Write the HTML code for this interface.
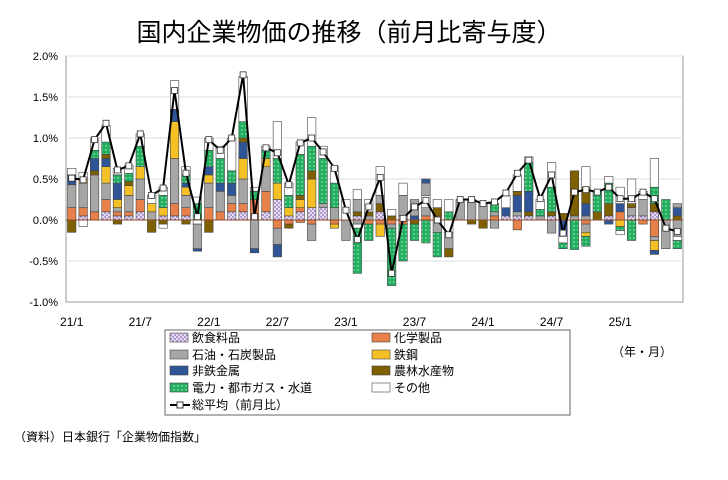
<!DOCTYPE html>
<html><head><meta charset="utf-8">
<style>
body{margin:0;background:#fff;width:728px;height:475px;overflow:hidden}
svg text{font-family:"Liberation Sans","Noto Sans CJK JP",sans-serif;fill:#000}
</style></head><body>
<svg id="s" width="728" height="475" xmlns="http://www.w3.org/2000/svg">
<defs>
<pattern id="pf" width="4" height="4" patternUnits="userSpaceOnUse"><rect width="4" height="4" fill="#e6dcf2"/><circle cx="1" cy="1" r="0.9" fill="#8a6bb8"/><circle cx="3" cy="3" r="0.9" fill="#8a6bb8"/></pattern>
<pattern id="pe" width="4" height="4" patternUnits="userSpaceOnUse"><rect width="4" height="4" fill="#22b060"/><circle cx="2" cy="2" r="0.7" fill="#bff0d0"/></pattern>
</defs>
<text x="349" y="41" font-size="25" text-anchor="middle">国内企業物価の推移（前月比寄与度）</text>
<g id="g"></g>
</svg>
<script>
var g=document.getElementById('g'),NS='http://www.w3.org/2000/svg';
function el(t,a,txt){var e=document.createElementNS(NS,t);for(var k in a)e.setAttribute(k,a[k]);if(txt!=null)e.textContent=txt;g.appendChild(e);return e;}
var X0=66,X1=683,Z=220,S=82,W=(X1-X0)/54;
function Y(v){return Z-v*S;}
el('rect',{x:X0,y:56,width:X1-X0,height:246,fill:'#fff',stroke:'#999','stroke-width':1});
[2,1.5,1,.5,-.5].forEach(function(v){el('line',{x1:X0,x2:X1,y1:Y(v),y2:Y(v),stroke:'#ddd'});});
[2,1.5,1,.5,0,-.5,-1].forEach(function(v){el('text',{x:58,y:Y(v)+4,'font-size':11,'text-anchor':'end'},v.toFixed(1)+'%');});
var C={f:'url(#pf)',c:'#e8804a',g:'#a6a6a6',s:'#f5c026',b:'#2f5597',a:'#7f6000',e:'url(#pe)',o:'#fff'};
var D=[
['c.15 g.28 b.12 o.08','a-.15'],['f.05 c.1 g.3 s.05 o.08','o-.08'],['c.1 g.45 a.05 b.15 e.1 o.15',''],['f.1 c.15 g.2 s.2 b.1 a.05 e.15 o.2',''],
['f.05 c.05 g.05 s.1 b.2 e.1 o.08','a-.05'],['f.05 c.05 g.2 s.12 a.05 e.1 o.1',''],['f.1 c.15 g.25 s.15 e.25 o.15',''],['g.1 s.1 o.1','a-.15'],
['f.05 s.1 e.15 o.1','a-.05 o-.05'],['f.05 c.15 g.55 s.45 b.15 o.35',''],['f.05 c.1 g.15 s.1 b.05 e.1 o.1','a-.05'],['e.2 o.08','o-.05 g-.3 b-.03'],
['c.15 g.3 s.1 b.1 e.2 o.15','a-.15'],['c.1 g.25 b.1 e.3 o.15',''],['f.1 c.1 g.1 b.15 e.15 o.4',''],['f.1 c.1 g.3 s.25 b.2 a.05 e.2 o.55',''],
['c.25 e.1 o.05','g-.35 b-.05'],['f.1 c.25 g.3 s.1 e.1 o.05',''],['f.25 s.2 e.3 o.45','c-.1 g-.2 b-.15'],['f.05 s.1 e.15 o.15','c-.05 a-.05'],
['f.1 c.05 s.1 a.05 e.5 o.15','c-.03'],['f.15 s.35 a.1 e.3 o.35','c-.05 g-.2'],['f.15 g.05 e.55 o.15',''],['g.15 e.3 o.2','c-.05 s-.05'],
['o.25','g-.25'],['f.05 a.05 g.15 o.12','g-.05 o-.05 e-.55'],['g.05 a.05 o.15','c-.05 e-.2'],['f.1 a.1 g.1 o.35','c-.05 s-.15'],
['a.05 o.08','c-.05 g-.05 e-.7'],['f.05 g.25 o.15','c-.05 e-.45'],['b.05 g.2','a-.05 e-.2'],['c.05 g.1 o.15 g.15 b.05','e-.28'],
['c.05 a.1 o.1','g-.15 e-.3'],['e.1 o.15','o-.15 g-.2 a-.1'],['g.25',''],['g.25','a-.05'],
['g.2','a-.1'],['c.05 g.05 e.1','g-.1'],['f.05 b.1 o.15',''],['f.05 g.05 b.2 a.05 o.2','c-.12'],
['f.05 a.05 b.25 e.35 o.07',''],['g.05 e.08 o.12',''],['f.05 a.05 e.3 o.3','g-.16'],['a.08','b-.2 o-.08 e-.07'],
['g.05 a.55','e-.36'],['g.05 b.15 a.2 o.25','c-.05 g-.1 s-.05 e-.12'],['a.1 e.25',''],['f.05 a.15 e.25 o.08','b-.05'],
['c.1 b.1 o.2','s-.08 e-.05 o-.05'],['f.05 g.1 a.05 o.3','e-.25'],['f.05 g.2 o.1','c-.05'],['f.1 a.1 e.2 o.35','c-.2 g-.05 s-.12 b-.05'],
['e.25','g-.35'],['a.05 b.1 g.05','g-.2 o-.05 e-.1']];
var T=[.51,.49,.98,1.18,.61,.66,1.05,.3,.39,1.58,.57,.04,.98,.85,1,1.77,.04,.88,.82,.43,.94,1,.83,.63,.12,-.24,.16,.52,-.65,.02,.16,.24,0,-.18,.25,.25,.2,.22,.33,.57,.73,.26,.55,-.16,.34,.37,.34,.4,.26,.26,.34,.26,-.1,-.14];
var bw=8.5;
D.forEach(function(d,i){var cx=X0+W*(i+.5);
 [0,1].forEach(function(k){var acc=0;if(!d[k])return;d[k].split(' ').forEach(function(t){var c=t[0],v=parseFloat(t.slice(1));var y0=Y(acc),y1=Y(acc+v);el('rect',{x:cx-bw/2,y:Math.min(y0,y1),width:bw,height:Math.abs(y1-y0),fill:C[c],stroke:'#444','stroke-width':.6});acc+=v;});});});
el('line',{x1:X0,x2:X1,y1:Z,y2:Z,stroke:'#8a4a2a','stroke-width':1});
var p='';T.forEach(function(v,i){p+=(i?'L':'M')+(X0+W*(i+.5)).toFixed(1)+' '+Y(v).toFixed(1);});
el('path',{d:p,fill:'none',stroke:'#000','stroke-width':2});
T.forEach(function(v,i){el('rect',{x:X0+W*(i+.5)-3,y:Y(v)-3,width:6,height:6,fill:'#fff',stroke:'#333','stroke-width':.8});});
['21/1','21/7','22/1','22/7','23/1','23/7','24/1','24/7','25/1'].forEach(function(l,j){el('text',{x:X0+W*(j*6+.5),y:326,'font-size':12,'text-anchor':'middle'},l);});
el('rect',{x:165,y:330,width:405,height:85,fill:'#fff',stroke:'#666'});
var L=[['f','飲食料品',170,338],['c','化学製品',372,338],['g','石油・石炭製品',170,355],['s','鉄鋼',372,355],['b','非鉄金属',170,371],['a','農林水産物',372,371],['e','電力・都市ガス・水道',170,388],['o','その他',372,388]];
L.forEach(function(l){el('rect',{x:l[2],y:l[3]-5,width:18,height:9,fill:C[l[0]],stroke:'#444','stroke-width':.6});el('text',{x:l[2]+22,y:l[3]+4,'font-size':12},l[1]);});
el('line',{x1:170,x2:190,y1:405,y2:405,stroke:'#000','stroke-width':2});
el('rect',{x:177,y:402,width:6,height:6,fill:'#fff',stroke:'#333'});
el('text',{x:192,y:409,'font-size':12},'総平均（前月比）');
el('text',{x:612,y:356,'font-size':12},'（年・月）');
el('text',{x:14,y:441,'font-size':12},'（資料）日本銀行「企業物価指数」');
</script>
</body></html>
